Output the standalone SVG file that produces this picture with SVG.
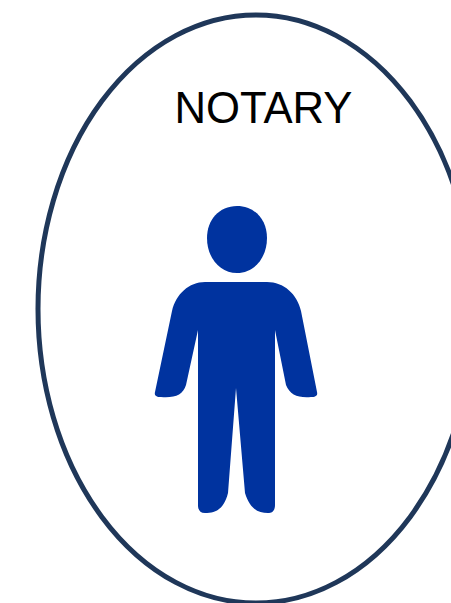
<svg xmlns="http://www.w3.org/2000/svg" width="451" height="603" viewBox="0 0 451 603">
<style>.lbl{font-family:"Liberation Sans",Arial,sans-serif;font-size:43.7px;fill:#000}.fig{fill:#00339f}</style>
<rect width="451" height="603" fill="#fff"/>
<g id="notary">
<ellipse cx="256" cy="309" rx="218" ry="294" fill="#fff" stroke="#1f3759" stroke-width="5"/>
<text class="lbl" x="263.5" y="123" text-anchor="middle">NOTARY</text>
<g id="person" class="fig">
<path d="M237 206C255 206 267 220 267 238C267 258 254 273 237 273C220 273 207 258 207 238C207 220 219 206 237 206Z"/>
<path d="M205 282H267C284 282 297 294 301 311L317 392C318 396 315 397 311 397C298 398 290 395 286 385L275 330V505C275 511 272 513 268 513C258 513 250 509 245 493L236 388L228 493C224 509 216 513 205 513C200 513 198 510 198 505V330L186 385C183 395 175 398 161 397C157 397 154 396 155 392L172 311C176 294 189 282 205 282Z"/>
</g>
</g>
</svg>
